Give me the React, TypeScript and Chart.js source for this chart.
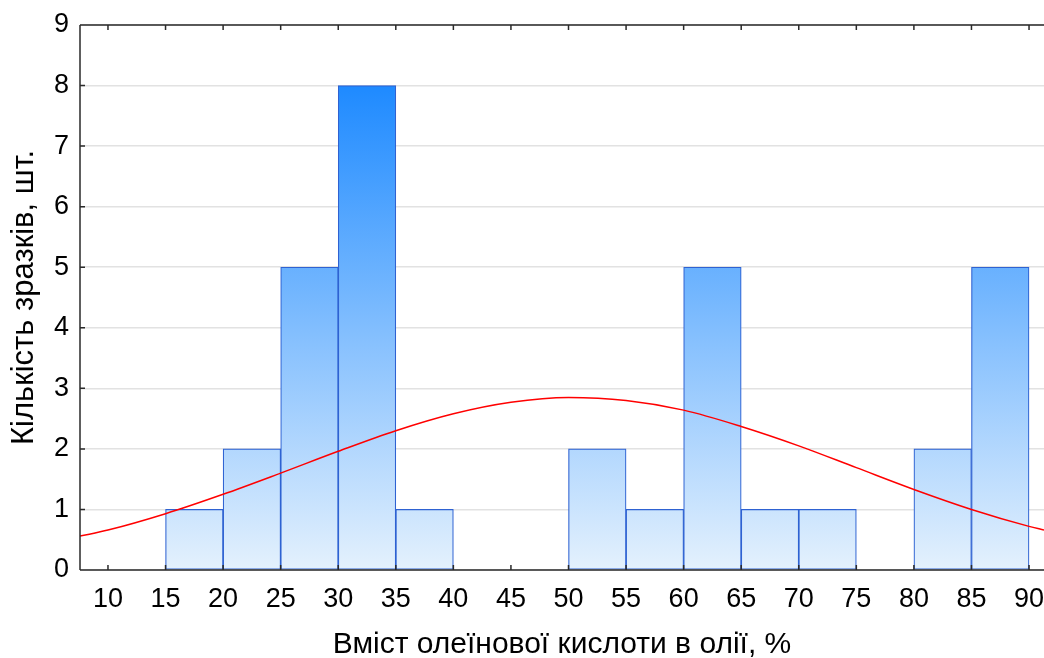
import React, { useEffect, useRef } from "react";
import { Chart, registerables } from "chart.js";

Chart.register(...registerables);

// Histogram bins (centres of 5%-wide bins) and sample counts
const binCenters = [17.5, 22.5, 27.5, 32.5, 37.5, 52.5, 57.5, 62.5, 67.5, 72.5, 82.5, 87.5];
const binCounts = [1, 2, 5, 8, 1, 2, 1, 5, 1, 1, 2, 5];

// Fitted normal curve
const curveX = [7.57, 10, 15, 20, 25, 30, 35, 40, 45, 50, 55, 60, 65, 70, 75, 80, 85, 90, 91.3];
const curveY = [0.56, 0.66, 0.93, 1.25, 1.6, 1.96, 2.3, 2.58, 2.77, 2.85, 2.8, 2.64, 2.37, 2.05, 1.69, 1.33, 1.0, 0.72, 0.66];

const xTicks = [10, 15, 20, 25, 30, 35, 40, 45, 50, 55, 60, 65, 70, 75, 80, 85, 90];
const yTicks = [0, 1, 2, 3, 4, 5, 6, 7, 8, 9];

const xTitle = "Вміст олеїнової кислоти в олії, %";
const yTitle = "Кількість зразків, шт.";

const FONT = "Arial, 'Liberation Sans', sans-serif";

const framePlugin = {
  id: "frame",
  afterDatasetsDraw(chart: any) {
    const { ctx, chartArea, scales } = chart;
    const { left, right, top, bottom } = chartArea;
    ctx.save();
    ctx.strokeStyle = "#2a2a2a";
    ctx.lineWidth = 1.5;
    ctx.beginPath();
    ctx.moveTo(left, top);
    ctx.lineTo(right, top);
    ctx.moveTo(left, top);
    ctx.lineTo(left, bottom);
    ctx.moveTo(left, bottom);
    ctx.lineTo(right, bottom);
    for (const v of xTicks) {
      const px = scales.x.getPixelForValue(v);
      ctx.moveTo(px, bottom);
      ctx.lineTo(px, bottom - 5);
      ctx.moveTo(px, top);
      ctx.lineTo(px, top + 5);
    }
    for (const v of yTicks) {
      const py = scales.y.getPixelForValue(v);
      ctx.moveTo(left, py);
      ctx.lineTo(left + 5, py);
    }
    ctx.stroke();
    ctx.restore();
  },
};

export default function App() {
  const ref = useRef<HTMLCanvasElement>(null);

  useEffect(() => {
    document.body.style.margin = "0";
    const canvas = ref.current!;
    const chart = new Chart(canvas, {
      type: "bar",
      data: {
        datasets: [
          {
            type: "line",
            data: curveX.map((x, i) => ({ x, y: curveY[i] })),
            borderColor: "#ff0000",
            borderWidth: 1.5,
            pointRadius: 0,
            cubicInterpolationMode: "monotone",
            fill: false,
            order: 0,
          } as any,
          {
            type: "bar",
            data: binCenters.map((x, i) => ({ x, y: binCounts[i] })),
            backgroundColor: (c: any) => {
              const ch = c.chart;
              const area = ch.chartArea;
              if (!area) return "#8ec3ff";
              const y0 = ch.scales.y.getPixelForValue(0);
              const y8 = ch.scales.y.getPixelForValue(8);
              const g = ch.ctx.createLinearGradient(0, y0, 0, y8);
              g.addColorStop(0, "#e4f1fd");
              g.addColorStop(1, "#1e8aff");
              return g;
            },
            borderColor: "#2e62d2",
            borderWidth: 1.2,
            borderSkipped: false,
            barPercentage: 1,
            categoryPercentage: 1,
            order: 1,
          } as any,
        ],
      },
      options: {
        animation: false,
        responsive: false,
        maintainAspectRatio: false,
        layout: { padding: { top: 25, left: 0, right: 0, bottom: 0 } },
        plugins: { legend: { display: false }, tooltip: { enabled: false } },
        scales: {
          x: {
            type: "linear",
            min: 7.57,
            max: 91.3,
            offset: false,
            grid: { display: false, drawTicks: false, offset: false },
            border: { display: false },
            afterBuildTicks: (s: any) => {
              s.ticks = xTicks.map((v) => ({ value: v }));
            },
            afterFit: (s: any) => {
              s.height = 88;
              s.paddingLeft = 0;
              s.paddingRight = 0;
            },
            ticks: {
              color: "#000",
              font: { family: FONT, size: 27 },
              padding: 13,
              maxRotation: 0,
              autoSkip: false,
              callback: (v: any) => String(v),
            },
            title: {
              display: true,
              text: xTitle,
              color: "#000",
              font: { family: FONT, size: 30 },
              padding: { top: 0, bottom: -5 },
            },
          },
          y: {
            type: "linear",
            min: 0,
            max: 9,
            grid: { color: "#e2e2e2", lineWidth: 1.5, drawTicks: false },
            border: { display: false },
            afterBuildTicks: (s: any) => {
              s.ticks = yTicks.map((v) => ({ value: v }));
            },
            afterFit: (s: any) => {
              s.width = 80;
              s.paddingTop = 0;
              s.paddingBottom = 0;
            },
            ticks: {
              color: "#000",
              font: { family: FONT, size: 27 },
              padding: 11,
            },
            title: {
              display: true,
              text: yTitle,
              color: "#000",
              font: { family: FONT, size: 31 },
              padding: { top: 6, bottom: 0 },
            },
          },
        },
      },
      plugins: [framePlugin],
    });
    return () => chart.destroy();
  }, []);

  return (
    <div style={{ width: 1044, height: 658 }}>
      <canvas ref={ref} width={1044} height={658} style={{ display: "block" }} />
    </div>
  );
}
